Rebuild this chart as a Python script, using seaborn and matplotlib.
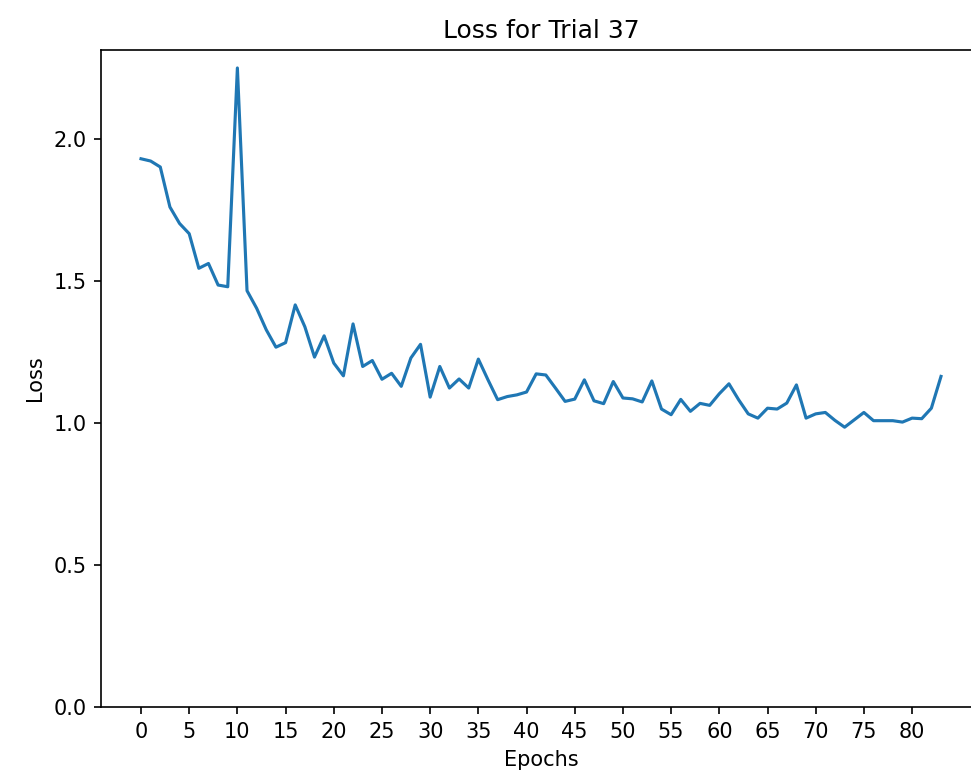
import numpy as np
import matplotlib
matplotlib.use("Agg")
import matplotlib.pyplot as plt
import seaborn as sns

# loss per epoch
epochs = list(range(84))
loss = [
    1.932, 1.924, 1.903, 1.762, 1.704, 1.668, 1.546, 1.563, 1.487, 1.481,
    2.252, 1.467, 1.405, 1.329, 1.268, 1.284, 1.417, 1.340, 1.233, 1.308,
    1.212, 1.167, 1.350, 1.200, 1.221, 1.155, 1.176, 1.130, 1.230, 1.278,
    1.092, 1.200, 1.124, 1.156, 1.124, 1.226, 1.153, 1.083, 1.094, 1.100,
    1.110, 1.174, 1.170, 1.124, 1.077, 1.085, 1.153, 1.079, 1.069, 1.147,
    1.089, 1.086, 1.075, 1.149, 1.050, 1.030, 1.084, 1.042, 1.070, 1.063,
    1.104, 1.139, 1.083, 1.033, 1.018, 1.053, 1.050, 1.071, 1.135, 1.018,
    1.033, 1.038, 1.010, 0.986, 1.012, 1.038, 1.009, 1.009, 1.009, 1.004,
    1.018, 1.016, 1.053, 1.165,
]
trial = 37

fig = plt.figure(figsize=(971 / 150, 783 / 150), dpi=150)
# axes run a little past the right edge, like the cropped original
ax = fig.add_axes([101 / 971, 76 / 783, 880 / 971, 657 / 783])

sns.lineplot(x=epochs, y=loss, ax=ax)
ax.set_ylim(bottom=0)
ax.set_xticks(np.arange(0, len(epochs), 5))
ax.set_title(f'Loss for Trial {trial}')
ax.set_xlabel('Epochs')
ax.set_ylabel('Loss')

plt.savefig('out.png', dpi=150)
plt.close()
